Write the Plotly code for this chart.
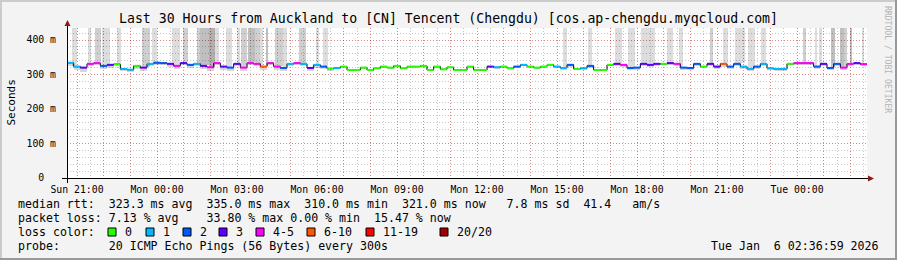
import plotly.graph_objects as go
import pandas as pd

# ---------------- data ----------------
title = "Last 30 Hours from Auckland to [CN] Tencent (Chengdu) [cos.ap-chengdu.myqcloud.com]"
t_start = "2026-01-04 20:37:30"
t_end = "2026-01-06 02:37:30"
step_min = 15

# median rtt (ms) per 15-minute step
median_ms = [334, 323, 320, 331, 333, 325, 328, 330, 316, 314, 325, 320, 331, 334, 333, 331, 325, 333, 328, 331,
             325, 321, 333, 323, 320, 331, 320, 333, 331, 323, 333, 323, 319, 331, 333, 331, 319, 328, 323, 317,
             319, 323, 313, 313, 320, 313, 318, 323, 320, 325, 318, 323, 323, 325, 313, 323, 315, 321, 313, 313,
             323, 313, 313, 323, 321, 323, 318, 323, 328, 323, 320, 323, 328, 323, 319, 328, 316, 318, 325, 313,
             313, 328, 331, 328, 319, 320, 331, 328, 331, 331, 333, 331, 320, 319, 331, 323, 331, 323, 331, 323,
             331, 323, 316, 323, 331, 318, 316, 316, 331, 333, 333, 333, 323, 331, 319, 331, 320, 331, 333, 330]

# lost pings (out of 20) per step
loss_cnt = [1, 1, 3, 4, 4, 2, 3, 0, 1, 1, 0, 3, 1, 2, 2, 3, 4, 3, 2, 1,
            3, 4, 4, 3, 2, 3, 4, 4, 4, 6, 4, 4, 2, 1, 4, 1, 3, 1, 2, 0,
            1, 0, 0, 0, 0, 0, 0, 0, 0, 0, 0, 0, 0, 0, 0, 0, 0, 0, 0, 0,
            0, 0, 0, 3, 1, 0, 0, 2, 1, 0, 0, 0, 0, 1, 1, 2, 0, 1, 2, 0,
            0, 0, 3, 4, 2, 2, 3, 3, 3, 0, 3, 4, 2, 2, 2, 0, 3, 3, 6, 2,
            2, 1, 1, 2, 1, 1, 1, 1, 0, 4, 4, 4, 2, 3, 2, 2, 4, 4, 3, 4]

# smoke extent below the median (ms) per step
smoke_below = [8, 10, 12, 6, 6, 10, 8, 6, 6, 6, 8, 10, 6, 5, 6, 8, 10, 6, 8, 6,
               10, 10, 6, 10, 10, 6, 10, 6, 6, 10, 6, 10, 10, 6, 6, 6, 10, 8, 8, 6,
               4, 3, 2, 2, 3, 2, 3, 3, 3, 3, 3, 3, 3, 3, 2, 3, 2, 3, 2, 2,
               3, 2, 2, 4, 4, 3, 3, 4, 4, 3, 3, 3, 4, 4, 5, 5, 3, 5, 5, 3,
               3, 4, 6, 6, 6, 6, 6, 6, 6, 4, 6, 6, 6, 6, 6, 4, 6, 6, 8, 6,
               6, 6, 6, 6, 6, 6, 6, 6, 4, 6, 6, 6, 6, 6, 6, 6, 6, 6, 6, 6]

# tall smoke (slow pings beyond the top): minutes from start, shade level 1..4
spike_start_min = [11, 48, 63, 79, 112, 168, 191, 236, 260, 292, 299, 320, 333, 358, 382, 391, 408, 423, 434, 447,
                   468, 487, 522, 560, 575, 1115, 1172, 1233, 1262, 1292, 1349, 1378, 1447, 1475, 1503, 1533, 1562,
                   1657, 1683, 1693, 1720, 1739, 1748, 1762, 1788]
spike_end_min = [23, 53, 76, 97, 121, 187, 202, 254, 272, 299, 320, 333, 342, 371, 389, 404, 423, 434, 442, 452,
                 487, 496, 538, 566, 588, 1124, 1181, 1248, 1278, 1323, 1364, 1385, 1453, 1488, 1526, 1548, 1573,
                 1663, 1687, 1698, 1728, 1748, 1756, 1767, 1793]
spike_shade = [1, 1, 2, 1, 1, 2, 1, 1, 2, 2, 3, 4, 1, 1, 1, 2, 3, 2, 1, 3,
               2, 1, 2, 1, 1, 1, 1, 1, 1, 1, 1, 1, 2, 1, 1, 1, 1,
               2, 1, 1, 3, 3, 2, 3, 1]

loss_labels = ["0", "1", "2", "3", "4-5", "6-10", "11-19", "20/20"]
loss_colors = ["#26ff00", "#00b8ff", "#0059ff", "#5e00ff", "#ff00ff", "#ff5500", "#ff0000", "#a10000"]
loss_upper = [0, 1, 2, 3, 5, 10, 19, 20]

stats_rtt = "median rtt:  323.3 ms avg  335.0 ms max  310.0 ms min  321.0 ms now   7.8 ms sd  41.4   am/s"
stats_loss = "packet loss: 7.13 % avg    33.80 % max 0.00 % min  15.47 % now"
probe_txt = "probe:       20 ICMP Echo Pings (56 Bytes) every 300s"
stamp_txt = "Tue Jan  6 02:36:59 2026"
y_ticks = [0, 100, 200, 300, 400]
y_ticktext = ["0  ", "100 m", "200 m", "300 m", "400 m"]

# ---------------- geometry / style ----------------
W, H = 897, 260
L, R, T, B = 67, 30, 28, 82
PW, PH = W - L - R, H - T - B
Y_MAX = 150 / 0.345
MONO = "DejaVu Sans Mono"
shade_colors = {1: "rgba(0,0,0,0.135)", 2: "rgba(0,0,0,0.19)", 3: "rgba(0,0,0,0.25)", 4: "rgba(0,0,0,0.31)"}


def px(x):
    return (x - L) / PW


def py(y):
    return (H - B - y) / PH


def nb(s):
    return s.replace(" ", "\u00a0")


t0 = pd.Timestamp(t_start)
n = len(median_ms)
times = [t0 + pd.Timedelta(minutes=step_min * k) for k in range(n + 1)]
step_ms = step_min * 60 * 1000

fig = go.Figure()

# smoke around the median
fig.add_trace(go.Bar(
    x=[times[k] + pd.Timedelta(minutes=step_min / 2) for k in range(n)],
    y=[smoke_below[k] + 2 for k in range(n)],
    base=[median_ms[k] - smoke_below[k] for k in range(n)],
    width=[step_ms] * n,
    marker=dict(color="rgba(0,0,0,0.16)", line=dict(width=0)),
    hoverinfo="skip"))

# tall smoke
sx, sy, sb, sw, sc = [], [], [], [], []
for a, b, s in zip(spike_start_min, spike_end_min, spike_shade):
    mid = (a + b) / 2
    k = min(int(mid // step_min), n - 1)
    base = median_ms[k] + 2
    sx.append(t0 + pd.Timedelta(minutes=mid))
    sw.append((b - a) * 60 * 1000)
    sb.append(base)
    sy.append(Y_MAX - base)
    sc.append(shade_colors[s])
fig.add_trace(go.Bar(x=sx, y=sy, base=sb, width=sw,
                     marker=dict(color=sc, line=dict(width=0)), hoverinfo="skip"))

# black median step line
fig.add_trace(go.Scatter(x=times, y=median_ms + [median_ms[-1]], mode="lines",
                         line=dict(color="#000000", width=1, shape="hv"), hoverinfo="skip"))


def bin_of(c):
    for i, u in enumerate(loss_upper):
        if c <= u:
            return i
    return len(loss_upper) - 1


for i, col in enumerate(loss_colors):
    xs, ys = [], []
    for k in range(n):
        if bin_of(loss_cnt[k]) == i:
            xs += [times[k], times[k + 1], None]
            ys += [median_ms[k], median_ms[k], None]
    if xs:
        fig.add_trace(go.Scatter(x=xs, y=ys, mode="lines", line=dict(color=col, width=2),
                                 hoverinfo="skip"))

# axes
hours = pd.date_range("2026-01-04 21:00", "2026-01-06 02:00", freq="1h")
hour_text = [h.strftime("%a %H:%M") if h.hour % 3 == 0 else "" for h in hours]

fig.update_xaxes(type="date", range=[t_start, t_end], tickvals=list(hours), ticktext=hour_text,
                 showgrid=True, gridcolor="rgba(255,0,0,0.33)", griddash="1px,2px", gridwidth=1,
                 ticks="", ticklabelstandoff=4, showline=False, zeroline=False,
                 tickfont=dict(family=MONO, size=9.8, color="#000"),
                 minor=dict(dtick=1800000, tick0="2026-01-04 21:00", showgrid=True,
                            gridcolor="rgba(0,0,0,0.22)", griddash="1px,2px", ticks=""),
                 fixedrange=True)
fig.update_yaxes(range=[0, Y_MAX], tickvals=y_ticks, ticktext=[nb(t) for t in y_ticktext],
                 showgrid=True, gridcolor="rgba(255,0,0,0.33)", griddash="1px,2px",
                 ticks="", ticklabelstandoff=10, showline=False, zeroline=False,
                 tickfont=dict(family=MONO, size=9.8, color="#000"),
                 minor=dict(dtick=20, showgrid=True, gridcolor="rgba(0,0,0,0.22)",
                            griddash="1px,2px", ticks=""),
                 fixedrange=True)

shapes = []
# frame
shapes.append(dict(type="rect", xref="paper", yref="paper", x0=px(0), x1=px(W), y0=py(0), y1=py(2),
                   fillcolor="#cbcbcb", line=dict(width=0), layer="above"))
shapes.append(dict(type="rect", xref="paper", yref="paper", x0=px(0), x1=px(2), y0=py(0), y1=py(H),
                   fillcolor="#cbcbcb", line=dict(width=0), layer="above"))
shapes.append(dict(type="rect", xref="paper", yref="paper", x0=px(0), x1=px(W), y0=py(H - 2), y1=py(H),
                   fillcolor="#999999", line=dict(width=0), layer="above"))
shapes.append(dict(type="rect", xref="paper", yref="paper", x0=px(W - 2), x1=px(W), y0=py(0), y1=py(H),
                   fillcolor="#999999", line=dict(width=0), layer="above"))
# axis lines
shapes.append(dict(type="line", xref="paper", yref="paper", x0=px(62), x1=px(869), y0=py(178.5), y1=py(178.5),
                   line=dict(color="#000", width=1), layer="above"))
shapes.append(dict(type="line", xref="paper", yref="paper", x0=px(67.5), x1=px(67.5), y0=py(183), y1=py(24),
                   line=dict(color="#000", width=1), layer="above"))
# arrows
shapes.append(dict(type="path", xref="paper", yref="paper",
                   path=f"M {px(64.5)} {py(26)} L {px(70.5)} {py(26)} L {px(67.5)} {py(20)} Z",
                   fillcolor="#8b1a1a", line=dict(width=0), layer="above"))
shapes.append(dict(type="path", xref="paper", yref="paper",
                   path=f"M {px(868)} {py(175.5)} L {px(868)} {py(181.5)} L {px(874)} {py(178.5)} Z",
                   fillcolor="#8b1a1a", line=dict(width=0), layer="above"))

annotations = []


def txt(x, y, s, size=11.6, xanchor="left", color="#000", angle=0):
    annotations.append(dict(x=px(x), y=py(y), xref="paper", yref="paper", text=nb(s), showarrow=False,
                            xanchor=xanchor, yanchor="middle", textangle=angle,
                            font=dict(family=MONO, size=size, color=color)))


txt(448.5, 19, title, size=13.2, xanchor="center")
txt(10.5, 103, "Seconds", size=11, xanchor="center", angle=-90)
txt(888, 59, "RRDTOOL / TOBI OETIKER", size=8.1, xanchor="center", color="#b4b4b4", angle=90)
txt(16, 204, stats_rtt)
txt(16, 218, stats_loss)
txt(16, 232, "loss color:")
txt(16, 246, probe_txt)
txt(881, 246, stamp_txt, xanchor="right")

box_px = [108, 146, 183, 219, 256, 307, 366, 440]
for bx, lab, col in zip(box_px, loss_labels, loss_colors):
    shapes.append(dict(type="rect", xref="paper", yref="paper", x0=px(bx), x1=px(bx + 8),
                       y0=py(228), y1=py(236), fillcolor=col, line=dict(color="#000", width=1),
                       layer="above"))
    txt(bx + 15, 232, lab)

fig.update_layout(width=W, height=H, margin=dict(l=L, r=R, t=T, b=B, pad=0),
                  paper_bgcolor="#f3f3f3", plot_bgcolor="#ffffff", showlegend=False,
                  barmode="overlay", bargap=0, shapes=shapes, annotations=annotations,
                  hovermode=False)

fig.write_html("out.html")
